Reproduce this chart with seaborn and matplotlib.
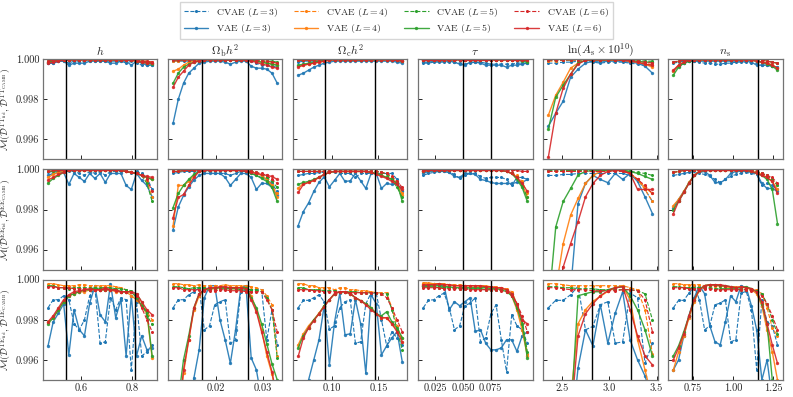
import numpy as np
import matplotlib
matplotlib.use("Agg")
import matplotlib.pyplot as plt
import seaborn as sns

# -----------------------
# Grid of the six varied parameters
# -----------------------
param_titles = [r'$h$', r'$\Omega_{\rm b} h^2$', r'$\Omega_{\rm c} h^2$', r'$\tau$',
                r'$\ln(A_{\rm s} \times 10^{10})$', r'$n_{\rm s}$']
x_start = [0.47, 0.011, 0.063, 0.014, 2.357, 0.628]
x_stop = [0.88, 0.033, 0.176, 0.108, 3.455, 1.275]
n_points = [21, 21, 21, 21, 15, 21]
fid_low = [0.54, 0.0172, 0.092, 0.0495, 2.82, 0.745]
fid_high = [0.812, 0.0268, 0.146, 0.0755, 3.224, 1.157]
x_ticks = [[0.6, 0.8], [0.02, 0.03], [0.10, 0.15], [0.025, 0.050, 0.075],
           [2.5, 3.0, 3.5], [0.75, 1.00, 1.25]]
x_tick_labels = [['0.6', '0.8'], ['0.02', '0.03'], ['0.10', '0.15'],
                 ['0.025', '0.050', '0.075'], ['2.5', '3.0', '3.5'],
                 ['0.75', '1.00', '1.25']]

spectra = ['TT', 'EE', 'TE']
latent_dims = [3, 4, 5, 6]
models = ['CVAE', 'VAE']
colors = ['#1f77b4', '#ff7f0e', '#2ca02c', '#d62728']

# -----------------------
# Mismatch 1 - M, in units of 1e-4
# rows: CVAE L=3, VAE L=3, CVAE L=4, VAE L=4, CVAE L=5, VAE L=5, CVAE L=6, VAE L=6
# -----------------------
tt_h = [
    [2, 2, 1, 1, 2, 1, 1, 1, 1, 1, 1, 1, 1, 1, 1, 2, 1, 2, 3, 3, 3],
    [2, 2, 1, 1, 3, 2, 2, 2, 1, 1, 1, 1, 2, 2, 1, 1, 3, 1, 2, 3, 3],
    [1, 0.5, 0.5, 0.3, 0.3, 0.3, 0.3, 0.3, 0.3, 0.3, 0.3, 0.3, 0.3, 0.3, 0.3, 0.3, 0.5, 0.5, 1, 1, 1.5],
    [1.5, 1, 0.5, 0.3, 0.3, 0.3, 0.3, 0.3, 0.3, 0.3, 0.3, 0.3, 0.3, 0.3, 0.3, 0.5, 0.5, 1, 1, 1.5, 2],
    [1, 0.5, 0.5, 0.3, 0.3, 0.3, 0.3, 0.3, 0.3, 0.3, 0.3, 0.3, 0.3, 0.3, 0.3, 0.3, 0.5, 0.5, 1, 1.5, 2],
    [1.5, 1, 0.5, 0.3, 0.3, 0.3, 0.3, 0.3, 0.3, 0.3, 0.3, 0.3, 0.3, 0.3, 0.3, 0.5, 0.5, 1, 1.5, 2, 2.5],
    [1, 0.5, 0.5, 0.3, 0.3, 0.3, 0.3, 0.3, 0.3, 0.3, 0.3, 0.3, 0.3, 0.3, 0.3, 0.3, 0.5, 0.5, 1, 1, 1.5],
    [2, 1.5, 1, 0.5, 0.3, 0.3, 0.3, 0.3, 0.3, 0.3, 0.3, 0.3, 0.3, 0.3, 0.3, 0.5, 0.5, 1, 1.5, 2, 2],
]
tt_obh = [
    [1, 1, 1, 1, 0.5, 0.5, 0.5, 0.5, 0.5, 0.5, 0.5, 0.5, 0.5, 0.5, 0.5, 1, 2, 3, 3, 3.5, 4],
    [32, 20, 12, 7, 4.5, 2, 1.5, 1, 1, 1, 1.5, 2.5, 1.5, 1, 1, 3.5, 4.5, 4.5, 5, 7, 12],
    [1, 1, 0.5, 0.5, 0.3, 0.3, 0.3, 0.3, 0.3, 0.3, 0.3, 0.3, 0.3, 0.3, 0.3, 0.5, 0.5, 1, 1, 1.5, 2],
    [6, 5, 3, 1.5, 1, 0.5, 0.3, 0.3, 0.3, 0.3, 0.3, 0.3, 0.3, 0.3, 0.3, 0.5, 1, 1.5, 2, 2.5, 3],
    [0.5, 0.5, 0.5, 0.3, 0.3, 0.3, 0.3, 0.3, 0.3, 0.3, 0.3, 0.3, 0.3, 0.3, 0.3, 0.5, 0.5, 1, 1, 1, 1.5],
    [12, 7, 4, 2.5, 1.5, 1, 0.5, 0.3, 0.3, 0.3, 0.3, 0.3, 0.3, 0.3, 0.5, 0.5, 1, 1.5, 2, 2.5, 3],
    [0.5, 0.5, 0.5, 0.3, 0.3, 0.3, 0.3, 0.3, 0.3, 0.3, 0.3, 0.3, 0.3, 0.3, 0.3, 0.5, 0.5, 1, 1, 1.5, 2],
    [14, 9, 6, 3, 1.5, 1, 0.5, 0.3, 0.3, 0.3, 0.3, 0.3, 0.3, 0.3, 0.5, 1, 1.5, 2.5, 3, 4, 4.5],
]
tt_och = [
    [1.5, 1, 1, 1, 1, 0.5, 0.5, 0.5, 0.5, 0.5, 0.5, 0.5, 0.5, 0.5, 0.5, 0.5, 0.5, 0.5, 0.5, 1, 1],
    [8, 7, 5.5, 4, 3, 2, 1.5, 1, 1, 1, 1, 1, 1, 1, 1, 1, 1, 1, 1, 1.5, 2],
    [0.5, 0.5, 0.5, 0.5, 0.3, 0.3, 0.3, 0.3, 0.3, 0.3, 0.3, 0.3, 0.3, 0.3, 0.3, 0.3, 0.3, 0.3, 0.3, 0.5, 0.5],
    [3.5, 3, 2.5, 2, 1.5, 1, 0.5, 0.3, 0.3, 0.3, 0.3, 0.3, 0.3, 0.3, 0.3, 0.3, 0.3, 0.3, 0.5, 0.5, 1],
    [0.5, 0.5, 0.5, 0.5, 0.3, 0.3, 0.3, 0.3, 0.3, 0.3, 0.3, 0.3, 0.3, 0.3, 0.3, 0.3, 0.3, 0.3, 0.3, 0.5, 0.5],
    [3, 2.5, 2, 1.5, 1, 0.5, 0.3, 0.3, 0.3, 0.3, 0.3, 0.3, 0.3, 0.3, 0.3, 0.3, 0.3, 0.3, 0.5, 0.5, 1],
    [0.5, 0.5, 0.5, 0.5, 0.3, 0.3, 0.3, 0.3, 0.3, 0.3, 0.3, 0.3, 0.3, 0.3, 0.3, 0.3, 0.3, 0.3, 0.3, 0.5, 0.5],
    [4, 3, 2.5, 2, 1.5, 1, 0.5, 0.3, 0.3, 0.3, 0.3, 0.3, 0.3, 0.3, 0.3, 0.3, 0.3, 0.3, 0.5, 0.5, 1],
]
tt_tau = [
    [2, 2, 1.5, 1.5, 1.5, 1.5, 1.5, 2, 2.5, 2, 1.5, 1.5, 2, 2.5, 2.5, 2.5, 2.5, 2.5, 2, 2, 2],
    [1.5, 1.5, 1, 1, 1, 1, 1.5, 2.5, 3, 1.5, 1.5, 2, 3, 3, 3, 3, 4, 3, 3, 2.5, 2],
    [0.5, 0.5, 0.5, 0.5, 0.5, 0.5, 0.5, 0.5, 0.5, 0.5, 0.5, 0.5, 0.5, 0.5, 0.5, 0.5, 0.5, 0.5, 0.5, 0.5, 0.5],
    [0.5, 0.3, 0.3, 0.3, 0.3, 0.3, 0.3, 0.3, 0.3, 0.3, 0.3, 0.3, 0.3, 0.3, 0.3, 0.3, 0.3, 0.3, 0.5, 0.5, 1],
    [0.5, 0.5, 0.5, 0.5, 0.5, 0.5, 0.5, 0.5, 0.5, 0.5, 0.5, 0.5, 0.5, 0.5, 0.5, 0.5, 0.5, 0.5, 0.5, 0.5, 0.5],
    [0.5, 0.3, 0.3, 0.3, 0.3, 0.3, 0.3, 0.3, 0.3, 0.3, 0.3, 0.3, 0.3, 0.3, 0.3, 0.3, 0.3, 0.5, 0.5, 1, 1.5],
    [0.3, 0.3, 0.3, 0.3, 0.3, 0.3, 0.3, 0.3, 0.3, 0.3, 0.3, 0.3, 0.3, 0.3, 0.3, 0.3, 0.3, 0.3, 0.3, 0.3, 0.3],
    [0.5, 0.3, 0.3, 0.3, 0.3, 0.3, 0.3, 0.3, 0.3, 0.3, 0.3, 0.3, 0.3, 0.3, 0.3, 0.3, 0.3, 0.3, 0.3, 0.5, 0.5],
]
tt_as = [
    [2, 2, 1.5, 1.5, 1, 1, 1.5, 2, 1.5, 1.5, 1.5, 2, 2.5, 3, 3],
    [33.5, 27, 21, 9, 5, 2, 1, 1.5, 1, 1, 1, 1.5, 2, 3.5, 7],
    [1, 1, 0.5, 0.5, 0.5, 0.5, 0.5, 0.5, 0.5, 0.5, 0.5, 1, 1.5, 2, 3],
    [28, 18, 11.5, 4.5, 2, 0.5, 0.5, 0.5, 0.5, 0.5, 0.5, 1, 1.5, 2.5, 4],
    [0.5, 0.5, 0.5, 0.3, 0.3, 0.3, 0.3, 0.3, 0.3, 0.3, 0.3, 0.5, 0.5, 1, 1],
    [35, 19, 13, 7.5, 2, 0.5, 0.3, 0.3, 0.3, 0.3, 0.3, 0.5, 1, 1.5, 1.5],
    [0.5, 0.5, 0.5, 0.3, 0.3, 0.3, 0.3, 0.3, 0.3, 0.3, 0.5, 0.5, 1, 1.5, 2],
    [49, 27, 14.5, 7.5, 2.5, 0.5, 0.3, 0.3, 0.3, 0.3, 0.5, 1, 1.5, 2.5, 3],
]
tt_ns = [
    [2, 1.5, 1, 1, 1, 1.5, 2, 2, 2.5, 2.5, 2, 2, 1.5, 1.5, 1.5, 2, 2, 3, 3, 3.5, 4],
    [6, 3.5, 2, 1, 1, 1, 1, 1, 1, 1, 1, 1, 1, 1, 1, 1.5, 3, 3, 3, 3.5, 4],
    [1.5, 1, 0.5, 0.5, 0.3, 0.3, 0.3, 0.3, 0.3, 0.3, 0.3, 0.3, 0.3, 0.3, 0.3, 0.3, 0.3, 0.5, 1, 1.5, 2],
    [6, 3, 1.5, 0.5, 0.3, 0.3, 0.3, 0.3, 0.3, 0.3, 0.3, 0.3, 0.3, 0.3, 0.3, 0.5, 1, 1.5, 2, 3, 4.5],
    [1.5, 1, 0.5, 0.5, 0.3, 0.3, 0.3, 0.3, 0.3, 0.3, 0.3, 0.3, 0.3, 0.3, 0.3, 0.3, 0.3, 0.5, 1, 1.5, 2],
    [8, 4, 2, 1, 0.5, 0.3, 0.3, 0.3, 0.3, 0.3, 0.3, 0.3, 0.3, 0.3, 0.3, 0.5, 1, 1.5, 2.5, 3.5, 5.5],
    [1.5, 1, 0.5, 0.5, 0.3, 0.3, 0.3, 0.3, 0.3, 0.3, 0.3, 0.3, 0.3, 0.3, 0.3, 0.3, 0.3, 0.5, 1, 1.5, 2],
    [5.5, 3, 1.5, 0.5, 0.3, 0.3, 0.3, 0.3, 0.3, 0.3, 0.3, 0.3, 0.3, 0.3, 0.3, 0.5, 1, 1.5, 2, 3, 4.5],
]

ee_h = [
    [1.5, 1, 1, 1, 1, 1, 2, 3, 1, 2, 1, 3, 1, 1, 1, 1, 2, 1, 2, 4, 10],
    [3, 2, 1.5, 1.5, 7.5, 2, 4, 6, 2, 4.5, 2, 6.5, 2, 2, 2, 8, 10, 2, 5.5, 8, 13.7],
    [1, 1, 0.5, 0.5, 0.5, 0.5, 0.5, 0.5, 0.5, 0.5, 0.5, 0.5, 0.5, 0.5, 0.5, 1, 1.5, 2, 3, 6, 14],
    [4, 2.5, 1.5, 1, 0.5, 0.5, 0.5, 0.5, 0.5, 0.5, 0.5, 0.5, 0.5, 0.5, 0.5, 1, 1.5, 2, 3, 4, 5],
    [1, 1, 0.5, 0.5, 0.5, 0.5, 0.5, 0.5, 0.5, 0.5, 0.5, 0.5, 0.5, 0.5, 0.5, 1, 1.5, 2, 3, 7, 16],
    [6.8, 4.5, 3, 1.5, 0.5, 0.5, 0.5, 0.5, 0.5, 0.5, 0.5, 0.5, 0.5, 0.5, 0.5, 1, 1.5, 2, 3, 4, 5],
    [1, 0.5, 0.5, 0.5, 0.5, 0.5, 0.5, 0.5, 0.5, 0.5, 0.5, 0.5, 0.5, 0.5, 0.5, 1, 1.5, 2, 3, 5, 11],
    [5.3, 4, 2.5, 1.5, 0.5, 0.5, 0.5, 0.5, 0.5, 0.5, 0.5, 0.5, 0.5, 0.5, 0.5, 1, 1.5, 2, 3, 3.5, 4],
]
ee_obh = [
    [2, 1.5, 1, 1, 1, 1, 1, 1, 2, 2, 2, 3, 2, 1, 1, 2, 3, 4, 5, 7, 11],
    [30, 18.7, 13, 8.7, 5.3, 3, 2, 2, 2, 2, 4, 8, 5, 2, 2, 4, 10, 7, 7, 9, 13],
    [1, 1, 0.5, 0.5, 0.5, 0.5, 0.5, 0.5, 0.5, 0.5, 0.5, 0.5, 0.5, 0.5, 0.5, 1, 2, 3, 5, 8, 12],
    [28, 8, 8, 6, 3, 1, 0.5, 0.5, 0.5, 0.5, 0.5, 0.5, 0.5, 0.5, 0.5, 1, 2, 3, 5, 8, 14],
    [1, 1, 0.5, 0.5, 0.5, 0.5, 0.5, 0.5, 0.5, 0.5, 0.5, 0.5, 0.5, 0.5, 0.5, 1, 1.5, 2.5, 4, 6, 9],
    [19, 12, 8, 5, 2.5, 1, 0.5, 0.5, 0.5, 0.5, 0.5, 0.5, 0.5, 0.5, 1, 2, 3, 4.5, 6, 9, 16],
    [1, 1, 0.5, 0.5, 0.5, 0.5, 0.5, 0.5, 0.5, 0.5, 0.5, 0.5, 0.5, 0.5, 0.5, 1, 1.5, 2, 3, 5, 7],
    [24, 14, 12.5, 8, 4, 1, 0.5, 0.5, 0.5, 0.5, 0.5, 0.5, 0.5, 0.5, 1, 1.5, 2, 2.5, 3, 3.5, 5],
]
ee_och = [
    [3, 2.5, 2, 2, 1.5, 1.5, 1.5, 1.5, 2, 2, 2, 4, 2, 2, 2, 2, 2, 2, 2, 5, 11],
    [28, 21, 16.7, 11, 6.5, 3.7, 8.7, 5.4, 2, 6, 5.7, 2, 5.7, 9.5, 2, 2, 9.5, 7, 7.5, 7, 11],
    [1, 1, 1, 1, 1, 1, 1, 1, 1, 1, 1, 1, 1, 1, 1, 1, 1.5, 2, 4, 7, 12],
    [9.5, 7, 6.5, 5.5, 4, 2.5, 1.5, 1, 1, 1, 1, 1, 1, 1, 1.5, 2, 3, 4, 5, 7, 13],
    [1, 1, 1, 1, 1, 1, 1, 1, 1, 1, 1, 1, 1, 1, 1, 1, 1.5, 2.5, 5, 9, 14],
    [7.5, 6.5, 6, 5, 4, 2.5, 1.5, 1, 1, 1, 1, 1, 1, 1, 1.5, 2, 3, 4, 5, 7, 16],
    [1, 1, 1, 1, 1, 1, 1, 1, 1, 1, 1, 1, 1, 1, 1, 1, 1.5, 2, 3.5, 6, 9],
    [11.5, 7.5, 6.5, 5.5, 4, 2.5, 1.5, 1, 1, 1, 1, 1, 1, 1, 1.5, 2.5, 3.5, 4.5, 6, 7.5, 10],
]
ee_tau = [
    [3, 2, 1.5, 1, 1, 1.5, 2.5, 4.5, 3, 2, 2, 3.5, 4.5, 4, 4, 4, 5, 8, 4, 4, 5],
    [2, 1, 1, 1, 1, 1.5, 3.5, 4, 2, 2, 2.5, 5, 5.5, 6.5, 7, 7, 7, 7, 6.5, 6.5, 5],
    [0.5, 0.5, 0.5, 0.5, 0.5, 0.5, 0.5, 0.5, 0.5, 0.5, 0.5, 0.5, 0.5, 0.5, 0.5, 0.5, 1, 2, 3, 6, 12],
    [1, 0.5, 0.5, 0.5, 0.5, 0.5, 0.5, 0.5, 0.5, 0.5, 0.5, 0.5, 0.5, 0.5, 0.5, 0.5, 1, 2, 4, 8, 13.7],
    [0.5, 0.5, 0.5, 0.5, 0.5, 0.5, 0.5, 0.5, 0.5, 0.5, 0.5, 0.5, 0.5, 0.5, 0.5, 0.5, 1, 2, 4, 8, 14],
    [1, 0.5, 0.5, 0.5, 0.5, 0.5, 0.5, 0.5, 0.5, 0.5, 0.5, 0.5, 0.5, 0.5, 0.5, 0.5, 1, 2, 5, 9, 16],
    [0.5, 0.5, 0.5, 0.5, 0.5, 0.5, 0.5, 0.5, 0.5, 0.5, 0.5, 0.5, 0.5, 0.5, 0.5, 0.5, 0.5, 0.5, 0.5, 1, 1],
    [1, 0.5, 0.5, 0.5, 0.5, 0.5, 0.5, 0.5, 0.5, 0.5, 0.5, 0.5, 0.5, 0.5, 0.5, 0.5, 1, 2, 4, 7, 11],
]
ee_as = [
    [3, 3, 2.5, 2.5, 2, 2, 2, 2, 2, 2, 2, 3, 5, 10, 16],
    [80, 80, 80, 60, 17, 7, 3, 5, 6.6, 2, 5, 2, 6, 13.7, 22],
    [1, 1, 1, 0.5, 0.5, 0.5, 0.5, 0.5, 0.5, 0.5, 1, 2, 5, 10, 16],
    [80, 60, 37, 22.8, 14.5, 7, 3, 1, 0.5, 0.5, 0.5, 2, 5, 9, 12],
    [0.5, 0.5, 0.5, 0.5, 0.5, 0.5, 0.5, 0.5, 0.5, 0.5, 0.5, 1, 1.5, 2, 3],
    [70, 28.7, 16, 9.5, 2.8, 1, 0.5, 0.5, 0.5, 0.5, 0.5, 1, 2, 3.5, 5],
    [1, 1, 1, 1, 1, 1, 1, 1, 1, 1, 1, 2, 5, 8, 12],
    [90, 80, 48.7, 37, 26, 13.7, 7, 3, 1, 0.5, 0.5, 2, 10, 10, 10],
]
ee_ns = [
    [3, 2.5, 2, 1.5, 1, 2, 2.5, 3.5, 5, 6.5, 5, 3.5, 2.5, 2, 1.5, 2, 2.5, 8, 7, 8, 10],
    [19, 15, 11, 6.7, 3, 1.5, 1, 3, 6.5, 6.7, 5, 2, 1, 1, 1, 1.5, 2, 7, 9.5, 9.5, 11],
    [1.5, 1, 0.5, 0.5, 0.5, 0.5, 0.5, 0.5, 0.5, 0.5, 0.5, 0.5, 0.5, 0.5, 0.5, 0.5, 1, 2, 3, 5, 8],
    [18, 15, 11, 6.5, 3, 1, 0.5, 0.5, 0.5, 0.5, 0.5, 0.5, 0.5, 0.5, 0.5, 1, 1.5, 2.5, 4, 6, 10],
    [1.5, 1, 0.5, 0.5, 0.5, 0.5, 0.5, 0.5, 0.5, 0.5, 0.5, 0.5, 0.5, 0.5, 0.5, 0.5, 1, 2, 3, 5, 8],
    [20, 16, 11.5, 6.7, 3, 1, 0.5, 0.5, 0.5, 0.5, 0.5, 0.5, 0.5, 0.5, 0.5, 1, 2, 3, 5, 10, 27],
    [1.5, 1, 0.5, 0.5, 0.5, 0.5, 0.5, 0.5, 0.5, 0.5, 0.5, 0.5, 0.5, 0.5, 0.5, 0.5, 1, 2, 3, 4, 7],
    [22, 16, 11.5, 7, 3, 1, 0.5, 0.5, 0.5, 0.5, 0.5, 0.5, 0.5, 0.5, 0.5, 1, 2, 3, 4, 6, 12],
]

te_h = [
    [14, 10, 10, 8, 10, 22, 25, 20, 8, 4, 31.7, 31, 9, 15, 9, 10, 45, 11, 38, 36, 32.5],
    [33, 21, 16.7, 12, 37.5, 15, 25, 28, 11.7, 3.3, 17.5, 21, 2, 19, 10, 38, 8, 38, 28, 35, 34],
    [2, 2, 2.5, 3, 3, 3, 2.5, 2.5, 3, 3, 3, 3, 3, 3.5, 4, 5, 6, 8, 12, 16, 20],
    [21, 19, 15, 11, 8, 7, 6, 6, 5, 5, 5, 5, 5, 6, 6, 6, 8, 10, 13, 17, 39],
    [3, 3, 4, 4, 4.5, 4, 4, 4, 4, 4.5, 4, 4, 4, 4.5, 4.5, 5, 5.5, 7, 11, 18, 22],
    [22, 19, 15, 11, 8, 7, 6, 5, 5, 4, 5, 5, 5, 5, 6, 6, 6, 9, 13, 16, 38],
    [3.5, 3.5, 4, 4, 4, 4.5, 4.5, 4.5, 5, 5, 5, 5, 5, 5, 6, 6, 6, 8, 14, 20, 26],
    [21, 18, 14, 10, 7.5, 6, 5.5, 5, 4.5, 5, 5, 4, 5, 5.5, 6, 6, 6, 7, 11, 15, 17.5],
]
te_obh = [
    [14, 10, 10, 7.5, 6, 4, 25, 23, 12.5, 11, 10, 31.7, 30, 6, 5, 5, 5, 5, 30, 15, 32.5],
    [80, 80, 80, 70, 49, 35, 9, 3, 3, 20, 30, 41.7, 25, 4, 3, 39, 45, 60, 80, 80, 80],
    [2, 2, 2.5, 2.5, 3, 2.5, 3, 3, 3, 3, 2.5, 3, 3, 3, 3, 3.5, 4, 5, 8, 12.5, 38],
    [80, 70, 46.7, 30, 15, 8, 5, 4.5, 4.5, 4, 4, 4.5, 4.5, 4, 4, 8, 15, 25, 38, 47, 60],
    [3.5, 3.5, 4, 4.5, 4, 4, 4, 4.5, 4.5, 4, 4.5, 4.5, 4.5, 5, 5, 5, 5, 6, 9, 15, 39],
    [80, 60, 40, 28, 14, 7, 5, 4.5, 4, 4, 4, 4, 4, 4, 4, 9, 14, 22, 32, 42, 50],
    [4, 4, 5, 5, 5, 5, 5.5, 5.5, 5.5, 5, 5, 5.5, 5.5, 5.5, 6, 6, 6, 6, 10, 15, 26],
    [80, 70, 45, 30, 14, 7, 5, 4, 4, 3.5, 3.5, 4, 4, 4, 4.5, 10, 16, 26, 36, 46, 60],
]
te_och = [
    [14, 10.3, 10.3, 9, 7.5, 11, 24.7, 23, 14, 11, 10, 31.7, 31, 12, 6.7, 6.7, 20, 33, 26, 29, 32.5],
    [80, 70, 50, 40, 30, 13, 42.5, 21, 6.7, 27.5, 27, 10, 22, 46.7, 7.5, 12, 37.5, 33, 29, 26, 41],
    [2, 2, 3, 3, 4, 4, 4, 5, 4, 4, 5, 5, 5.5, 5.5, 6, 6.5, 6.5, 6.5, 14, 23, 31],
    [32.5, 27, 23, 20, 16.7, 13, 10, 7, 6, 6, 7, 9, 10.5, 12, 14, 17, 19, 19, 22, 25, 29],
    [4, 4, 5, 5, 5, 5.5, 5.5, 5.5, 6, 6, 6, 6, 6.5, 6.5, 6.5, 6.5, 7, 7, 15, 25, 35],
    [34, 28, 24, 20, 17, 13, 10, 7, 6, 6, 7, 9, 10.5, 12, 14, 17, 18, 16, 21, 24, 29],
    [5, 5, 5, 5.5, 5.5, 6, 6, 6, 6, 6, 6.5, 6.5, 6.5, 6.5, 6.5, 6.5, 7, 9, 14, 20, 26],
    [38.3, 29, 24, 20.5, 17, 13.5, 10, 7, 6, 6, 7, 9, 10.5, 12.5, 15, 17, 19, 19, 22, 26, 31],
]
te_tau = [
    [14, 10.3, 10, 8, 6.7, 14, 25, 23, 13, 11.7, 9, 31, 29, 17, 12.5, 30, 45.8, 17.5, 23, 25, 31.7],
    [3, 3, 2, 2.5, 3, 15, 11, 13, 11, 9, 25.8, 25, 31.7, 35, 35, 34, 30, 30, 35.8, 28, 26],
    [1.5, 1.5, 2, 2, 2, 2.5, 2.5, 2.5, 3, 3, 3, 3, 3, 3.5, 3.5, 4, 4.5, 6, 12, 22, 37],
    [2, 2, 2, 2, 2.5, 2.5, 3, 3, 3, 3, 3, 3.5, 3.5, 4, 4, 4.5, 5, 8, 15, 25, 38],
    [3.5, 3.5, 3.5, 4, 4, 4, 4, 4.5, 4.5, 4.5, 4.5, 4.5, 5, 5, 5, 5, 5.5, 7, 12, 20, 36],
    [3, 3, 3, 3, 3.5, 3.5, 4, 4, 4, 4, 4, 4, 4, 4.5, 4.5, 5, 6, 8, 14, 22, 39],
    [4, 4, 4, 4, 4.5, 4.5, 4.5, 4.5, 4.5, 5, 5, 5, 5, 5, 5, 5.5, 6, 8, 12, 18, 26],
    [2.5, 2.5, 2.5, 2, 2.5, 2.5, 3, 3, 3, 3, 3, 3, 3.5, 3.5, 4, 4, 5, 7, 12, 20, 22],
]
te_as = [
    [14, 10.3, 10.3, 7.5, 3.3, 25, 23.3, 12.5, 11, 31.7, 31, 6.7, 9, 41.7, 31.7],
    [80, 80, 80, 80, 44, 25, 33, 12.5, 31.7, 16.7, 6, 30, 40, 48, 60],
    [2, 2, 2.5, 3, 3, 3, 3, 3, 3, 3, 3, 4, 5, 15, 37],
    [80, 80, 80, 60, 22, 15, 10.8, 8.3, 5.8, 4, 3.3, 10, 30, 45, 60],
    [3.5, 3.5, 4, 4, 4.5, 4.5, 4.5, 5, 5, 5, 5, 5, 5.5, 7, 20],
    [80, 80, 80, 70, 8, 7, 6, 6, 5, 4, 3.5, 8, 15, 25, 38],
    [4, 4, 4.5, 5, 5, 5, 5.5, 5.5, 5.5, 5.5, 5, 5, 5.5, 10, 26],
    [80, 80, 80, 70, 28, 17, 12, 8, 5.5, 4, 3.5, 15, 28, 38, 42.5],
]
te_ns = [
    [14, 10.3, 10.3, 6.7, 3.3, 10, 25, 23, 12.5, 11.7, 10, 31, 30, 6.7, 5.8, 15, 45, 10, 21, 23, 32.5],
    [45, 40, 28, 18, 9, 3, 7, 23, 31, 32.5, 21, 8, 11, 3, 4, 13, 25, 50, 40, 60, 80],
    [2, 2, 2.5, 2.5, 2.5, 2.5, 3, 3, 3, 3, 3.5, 3.5, 3.5, 4, 4, 4.5, 5, 7, 14, 24, 28],
    [45, 36, 28, 19, 11, 5, 3, 2.5, 3, 3, 3.5, 4, 4, 3.5, 4, 5, 7, 13, 25, 36, 50],
    [3.5, 3.5, 4, 4, 4, 4, 4, 4, 4.5, 4.5, 4.5, 4.5, 4.5, 5, 5, 5, 5.5, 7, 12, 20, 27],
    [38, 33, 26, 18, 10, 5, 3, 2.5, 2.5, 3, 3, 3.5, 4, 4, 3.5, 4.5, 6, 12, 22, 50, 70],
    [4, 4, 4, 4.5, 4.5, 4.5, 4.5, 4.5, 5, 5, 5, 5, 5, 5, 5, 5.5, 6, 8, 12, 18, 25],
    [40, 34, 27, 18, 10, 5, 3, 2.5, 2.5, 2.5, 3, 3.5, 4, 3.5, 4, 4.5, 6, 11, 22, 32.5, 41.7],
]

panels = [
    [tt_h, tt_obh, tt_och, tt_tau, tt_as, tt_ns],
    [ee_h, ee_obh, ee_och, ee_tau, ee_as, ee_ns],
    [te_h, te_obh, te_och, te_tau, te_as, te_ns],
]

# -----------------------
# Style
# -----------------------
sns.set_style("ticks")
plt.rcParams['font.family'] = 'serif'
plt.rcParams['font.serif'] = ['cmr10', 'DejaVu Serif']
plt.rcParams['mathtext.fontset'] = 'cm'
plt.rcParams['axes.formatter.use_mathtext'] = True
plt.rcParams['axes.edgecolor'] = '0.45'
plt.rcParams['axes.linewidth'] = 0.9

fig, axes = plt.subplots(3, 6, figsize=(7.93, 3.97), dpi=100, sharex='col', sharey=True)
fig.subplots_adjust(left=0.054, right=0.987, top=0.851, bottom=0.043, wspace=0.092, hspace=0.1)

for i, spec in enumerate(spectra):
    for j in range(6):
        ax = axes[i, j]
        x = np.linspace(x_start[j], x_stop[j], n_points[j])
        for k, L in enumerate(latent_dims):
            for m, model in enumerate(models):
                mismatch = np.array(panels[i][j][2 * k + m])
                y = 1 - mismatch * 1e-4
                kws = dict(label=f'{model} ($L={L}$)') if (i == 0 and j == 0) else {}
                if model == 'CVAE':
                    sns.lineplot(x=x, y=y, ax=ax, color=colors[k], linestyle='--', linewidth=0.8,
                                 marker='o', markersize=2.2, markeredgewidth=0, sort=False, **kws)
                else:
                    sns.lineplot(x=x, y=y, ax=ax, color=colors[k], linestyle='-', linewidth=1.0,
                                 alpha=0.9, marker='o', markersize=2.4, markeredgewidth=0,
                                 sort=False, **kws)
        ax.axvline(fid_low[j], color='k', lw=1.0)
        ax.axvline(fid_high[j], color='k', lw=1.0)
        ax.set_ylim(0.995, 1.0)
        ax.set_yticks([0.996, 0.998, 1.000])
        ax.set_yticklabels(['0.996', '0.998', '1.000'])
        ax.set_xticks(x_ticks[j])
        ax.set_xticklabels(x_tick_labels[j])
        ax.tick_params(direction='in', length=3, width=0.7, labelsize=7.5, pad=2.5)
        ax.set_xlabel('')
        ax.set_ylabel('')
        if i == 0:
            ax.set_title(param_titles[j], fontsize=8.5, pad=3)
        if j == 0:
            ax.set_ylabel(r'$\mathcal{M}(\mathcal{D}^{\rm %s_{fid}}, \mathcal{D}^{\rm %s_{CAMB}})$'
                          % (spec, spec), fontsize=7, labelpad=1)

handles, labels = axes[0, 0].get_legend_handles_labels()
if axes[0, 0].get_legend() is not None:
    axes[0, 0].get_legend().remove()
fig.legend(handles, labels, loc='upper center', bbox_to_anchor=(0.5, 1.0), ncol=4,
           fontsize=7, frameon=True, fancybox=False, edgecolor='0.8',
           handlelength=2.5, handletextpad=0.8, columnspacing=1.6, borderpad=0.4,
           labelspacing=0.35, borderaxespad=0.2)

plt.savefig('out.png', dpi=100)
